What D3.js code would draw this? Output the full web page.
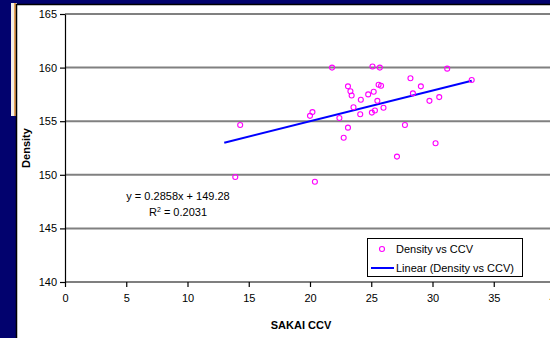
<!DOCTYPE html>
<meta charset="utf-8">
<html>
<head>
<style>
  body { margin: 0; background: #02026e; overflow: hidden; }
  svg { display: block; }
  text { font-family: 'Liberation Sans', Arial, sans-serif; fill: #000; }
  .grid line { stroke: #808080; stroke-width: 2px; }
  .axis path, .axis line { stroke: #000; stroke-width: 1.2px; }
  .axis text { font-size: 11px; }
  .title { font-size: 11px; font-weight: bold; }
</style>
</head>
<body>
<svg width="550" height="338"></svg>
<script src="https://cdn.jsdelivr.net/npm/d3@7"></script>
<script>

// readings from the picture
var ccv = [13.9, 14.3, 20.0, 20.2, 20.4, 21.8, 22.4, 22.75, 23.1, 23.1, 23.3, 23.4,
           23.55, 24.1, 24.15, 24.75, 25.05, 25.1, 25.2, 25.3, 25.5, 25.6, 25.7, 25.8,
           26.0, 27.1, 27.75, 28.2, 28.4, 29.05, 29.75, 30.25, 30.55, 31.2, 33.2];
var density = [149.8, 154.65, 155.5, 155.85, 149.35, 160.0, 155.3, 153.45, 154.4, 158.25, 157.8, 157.4,
               156.3, 155.65, 157.0, 157.5, 155.8, 160.1, 157.75, 156.0, 156.9, 158.4, 160.0, 158.3,
               156.25, 151.7, 154.65, 159.0, 157.6, 158.25, 156.9, 152.95, 157.25, 159.9, 158.85];

// trendline as printed on the chart
var slope = 0.2858, intercept = 149.28;
var trendRange = [13.0, 33.2];

var xTicks = [0, 5, 10, 15, 20, 25, 30, 35, 40];
var yTicks = [140, 145, 150, 155, 160, 165];
var eqLines = ["y = 0.2858x + 149.28", "R2 = 0.2031"];
var legendLabels = ["Density vs CCV", "Linear (Density vs CCV)"];

var svg = d3.select("svg");

// slide bits behind the chart
svg.append("rect").attr("x", 11).attr("y", 3).attr("width", 6).attr("height", 113).attr("fill", "#f4efe8");
svg.append("rect").attr("x", 14).attr("y", 3).attr("width", 2).attr("height", 113).attr("fill", "#e8a25a");

// chart panel
svg.append("rect")
    .attr("x", 16.5).attr("y", 4.5)
    .attr("width", 560).attr("height", 360)
    .attr("fill", "#fff")
    .attr("stroke", "#000").attr("stroke-width", 1.5);

var x = d3.scaleLinear().domain([0, 40]).range([65, 555]);
var y = d3.scaleLinear().domain([140, 165]).range([282, 14]);

// gridlines
svg.append("g").attr("class", "grid")
  .selectAll("line")
  .data(yTicks.slice(1))
  .enter().append("line")
    .attr("x1", x(0)).attr("x2", 560)
    .attr("y1", function(d) { return y(d); })
    .attr("y2", function(d) { return y(d); });

var xAxis = svg.append("g")
    .attr("class", "axis")
    .attr("transform", "translate(0," + y(140) + ")")
    .call(d3.axisBottom(x).tickValues(xTicks).tickSize(5).tickPadding(7).tickSizeOuter(0));
xAxis.select(".domain").attr("d", "M" + x(0) + ",0H560");

var yAxis = svg.append("g")
    .attr("class", "axis")
    .attr("transform", "translate(" + x(0) + ",0)")
    .call(d3.axisLeft(y).tickValues(yTicks).tickSize(5).tickPadding(3).tickSizeOuter(0));

// axis titles
svg.append("text").attr("class", "title")
    .attr("x", 301).attr("y", 329)
    .attr("text-anchor", "middle")
    .text("SAKAI CCV");

svg.append("text").attr("class", "title")
    .attr("transform", "translate(30,148) rotate(-90)")
    .attr("text-anchor", "middle")
    .text("Density");

// trendline
svg.append("line")
    .attr("x1", x(trendRange[0])).attr("y1", y(slope * trendRange[0] + intercept))
    .attr("x2", x(trendRange[1])).attr("y2", y(slope * trendRange[1] + intercept))
    .attr("stroke", "#0000ff").attr("stroke-width", 2);

// points
svg.append("g").selectAll("circle")
    .data(ccv)
    .enter().append("circle")
      .attr("cx", function(d) { return x(d); })
      .attr("cy", function(d, i) { return y(density[i]); })
      .attr("r", 2.5)
      .attr("fill", "none")
      .attr("stroke", "#ff00ff")
      .attr("stroke-width", 1.1);

// equation label
var eq = svg.append("g").attr("font-size", "11px");
eq.append("text").attr("x", 178).attr("y", 200).attr("text-anchor", "middle").text(eqLines[0]);
var r2 = eq.append("text").attr("x", 178).attr("y", 216).attr("text-anchor", "middle");
r2.append("tspan").text("R");
r2.append("tspan").attr("font-size", "7px").attr("dy", -4).text("2");
r2.append("tspan").attr("dy", 4).text(" = 0.2031");

// legend
var lg = svg.append("g").attr("font-size", "11px");
lg.append("rect")
    .attr("x", 367.5).attr("y", 238.5).attr("width", 155).attr("height", 38)
    .attr("fill", "#fff").attr("stroke", "#000").attr("stroke-width", 1);
lg.append("circle").attr("cx", 382).attr("cy", 249).attr("r", 2.5)
    .attr("fill", "none").attr("stroke", "#ff00ff").attr("stroke-width", 1.1);
lg.append("text").attr("x", 396).attr("y", 253).text(legendLabels[0]);
lg.append("line").attr("x1", 371).attr("x2", 394).attr("y1", 268).attr("y2", 268)
    .attr("stroke", "#0000ff").attr("stroke-width", 2);
lg.append("text").attr("x", 396).attr("y", 272).text(legendLabels[1]);

</script>
</body>
</html>
